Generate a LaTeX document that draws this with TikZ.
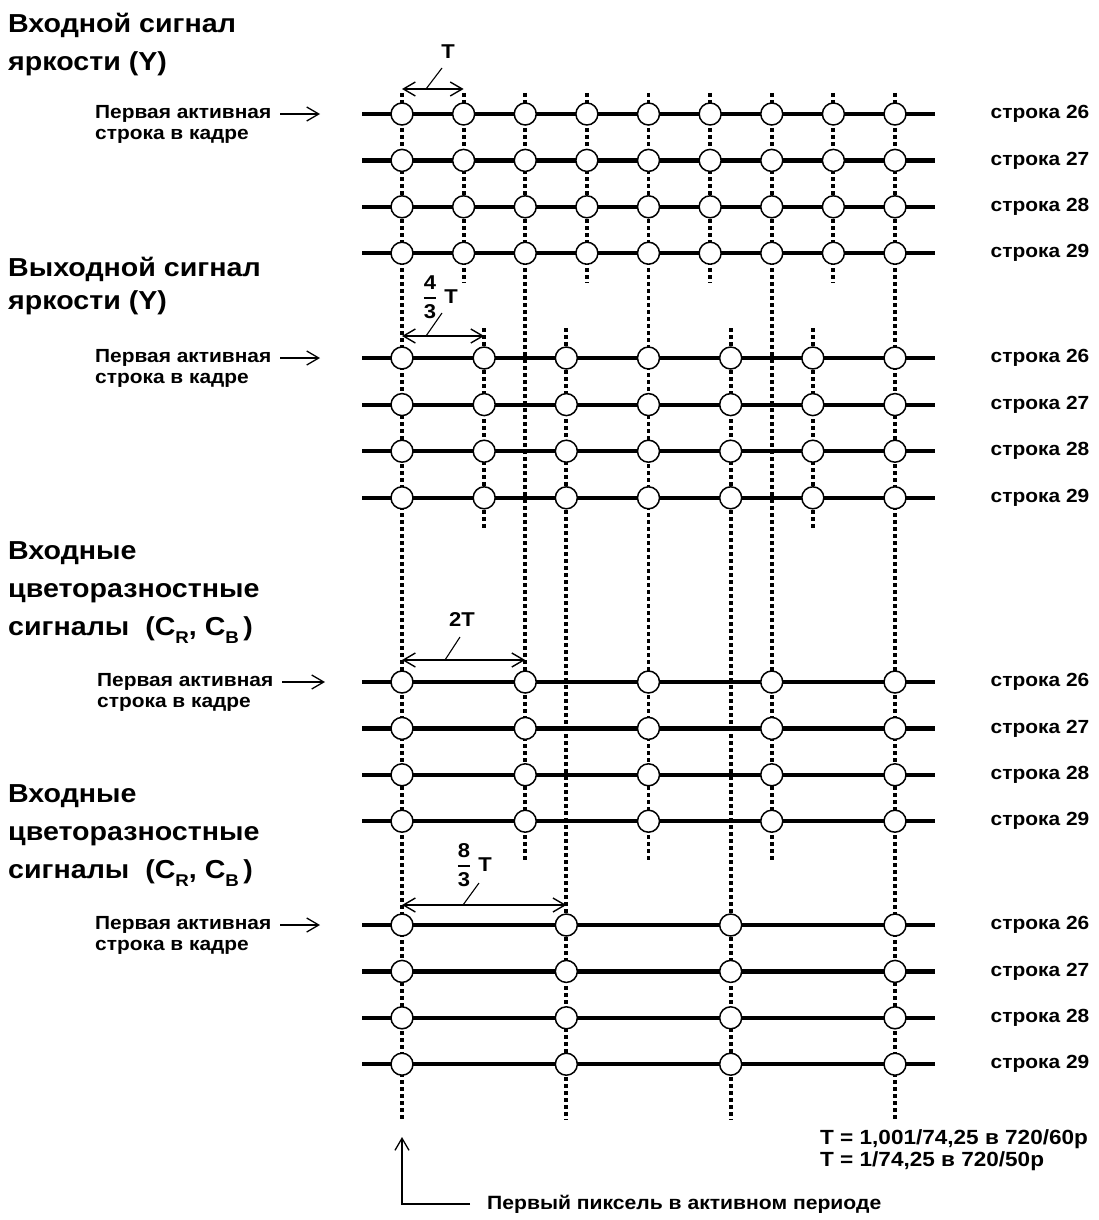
\documentclass[tikz,border=0pt]{standalone}
\usepackage{amsmath}
\usepackage{fontspec}
\setmainfont[FakeStretch=1.1]{Liberation Sans}
\usetikzlibrary{arrows.meta}

\newcommand{\pixfrac}[2]{$\genfrac{}{}{1.8pt}{0}{\text{#1}}{\text{#2}}$}
\newcommand{\lowsub}[1]{\raisebox{-8pt}{\fontsize{17}{17}\selectfont #1}}

\begin{document}
\begin{tikzpicture}[x=1pt, y=-1pt,
    title/.style={font=\fontsize{26}{38}\selectfont\bfseries, align=left, anchor=north west, inner sep=0pt},
    rowlabel/.style={font=\fontsize{19}{22}\selectfont\bfseries},
    firstrow/.style={font=\fontsize{19}{21}\selectfont\bfseries, align=left, anchor=north west, inner sep=0pt},
    note/.style={font=\fontsize{20.5}{22}\selectfont\bfseries, align=left, anchor=north west, inner sep=0pt},
    dimlabel/.style={font=\fontsize{20}{22}\selectfont\bfseries, inner sep=0pt},
    pix/.style={circle, draw, fill=white, line width=1.5pt, minimum size=22pt, inner sep=0pt},
    scan/.style={line width=4.2pt},
    sample/.style={line width=3.8pt, dash pattern=on 4pt off 3pt},
    dimline/.style={line width=1.4pt, {Straight Barb[length=12pt,width=14pt]}-{Straight Barb[length=12pt,width=14pt]}},
    lead/.style={line width=1.1pt},
    pointer/.style={line width=1.3pt, -{Straight Barb[length=12pt,width=14pt]}}
]
\useasboundingbox (0,0) rectangle (1099,1220);

% Sampling instants (dotted verticals)
\foreach \c/\ya/\yb in {0/93/1120, 1/93/283, 2/93/860, 3/93/283, 4/93/860,
                        5/93/283, 6/93/860, 7/93/283, 8/93/1120} {
    \draw[sample] (402+\c*61.625, \ya) -- (402+\c*61.625, \yb);
}
\foreach \c/\yb in {1/530, 2/1120, 4/1120, 5/530} {
    \draw[sample] (402+\c*82.1667, 328) -- (402+\c*82.1667, \yb);
}

% Input luminance (Y), step T
\begin{scope}[shift={(0,114)}]
    \node[title] (yin-title) at (8,-101) {Входной сигнал\\яркости (Y)};
    \node[firstrow] (yin-first) at (95,-9) {Первая активная\\строка в кадре};
    \coordinate (yin-pa) at (280,0);
    \coordinate (yin-pb) at (320,0);
    \draw[pointer] (yin-pa) -- (yin-pb);
    \foreach \r in {0,...,3} {
        \pgfmathtruncatemacro{\num}{26+\r}
        \draw[scan] (362, \r*46.4) -- (935, \r*46.4);
        \foreach \c in {0,...,8}
            \node[pix] (yin-\r-\c) at (402+\c*61.625, \r*46.4) {};
        \node[rowlabel] (yin-lab\r) at (1040, \r*46.4) {строка \num};
    }
    % T
    \coordinate (yin-da) at (402,-25);
    \coordinate (yin-db) at (463.6,-25);
    \draw[dimline] (yin-da) -- (yin-db);
    \node[dimlabel] (yin-T) at (448,-62) {T};
    \draw[lead] (442,-46) -- (426,-25);
\end{scope}

% Output luminance (Y), step 4/3 T
\begin{scope}[shift={(0,358)}]
    \node[title, font=\fontsize{26}{33}\selectfont\bfseries] (yout-title) at (8,-101) {Выходной сигнал\\яркости (Y)};
    \node[firstrow] (yout-first) at (95,-9) {Первая активная\\строка в кадре};
    \coordinate (yout-pa) at (280,0);
    \coordinate (yout-pb) at (320,0);
    \draw[pointer] (yout-pa) -- (yout-pb);
    \foreach \r in {0,...,3} {
        \pgfmathtruncatemacro{\num}{26+\r}
        \draw[scan] (362, \r*46.6) -- (935, \r*46.6);
        \foreach \c in {0,...,6}
            \node[pix] (yout-\r-\c) at (402+\c*82.1667, \r*46.6) {};
        \node[rowlabel] (yout-lab\r) at (1040, \r*46.6) {строка \num};
    }
    % 4/3 T
    \coordinate (yout-da) at (402,-22);
    \coordinate (yout-db) at (484.2,-22);
    \draw[dimline] (yout-da) -- (yout-db);
    \node[dimlabel] (yout-frac) at (430,-61) {\pixfrac{4}{3}};
    \node[dimlabel] (yout-T) at (451,-61) {T};
    \draw[lead] (442,-45) -- (426,-22);
\end{scope}

% Input colour difference, step 2T
\begin{scope}[shift={(0,682)}]
    \node[title] (cin-title) at (8,-141) {Входные\\цветоразностные\\сигналы~ (C\lowsub{R}, C\lowsub{B}\,)};
    \node[firstrow] (cin-first) at (97,-9) {Первая активная\\строка в кадре};
    \coordinate (cin-pa) at (282,0);
    \coordinate (cin-pb) at (325,0);
    \draw[pointer] (cin-pa) -- (cin-pb);
    \foreach \r in {0,...,3} {
        \pgfmathtruncatemacro{\num}{26+\r}
        \draw[scan] (362, \r*46.4) -- (935, \r*46.4);
        \foreach \c in {0,...,4}
            \node[pix] (cin-\r-\c) at (402+\c*123.25, \r*46.4) {};
        \node[rowlabel] (cin-lab\r) at (1040, \r*46.4) {строка \num};
    }
    % 2T
    \coordinate (cin-da) at (402,-22);
    \coordinate (cin-db) at (525.2,-22);
    \draw[dimline] (cin-da) -- (cin-db);
    \node[dimlabel] (cin-T) at (462,-62) {2T};
    \draw[lead] (460,-45) -- (445,-22);
\end{scope}

% Colour difference, step 8/3 T
\begin{scope}[shift={(0,925)}]
    \node[title] (cout-title) at (8,-141) {Входные\\цветоразностные\\сигналы~ (C\lowsub{R}, C\lowsub{B}\,)};
    \node[firstrow] (cout-first) at (95,-9) {Первая активная\\строка в кадре};
    \coordinate (cout-pa) at (280,0);
    \coordinate (cout-pb) at (320,0);
    \draw[pointer] (cout-pa) -- (cout-pb);
    \foreach \r in {0,...,3} {
        \pgfmathtruncatemacro{\num}{26+\r}
        \draw[scan] (362, \r*46.4) -- (935, \r*46.4);
        \foreach \c in {0,...,3}
            \node[pix] (cout-\r-\c) at (402+\c*164.333, \r*46.4) {};
        \node[rowlabel] (cout-lab\r) at (1040, \r*46.4) {строка \num};
    }
    % 8/3 T
    \coordinate (cout-da) at (402,-20);
    \coordinate (cout-db) at (566.3,-20);
    \draw[dimline] (cout-da) -- (cout-db);
    \node[dimlabel] (cout-frac) at (464,-60) {\pixfrac{8}{3}};
    \node[dimlabel] (cout-T) at (485,-60) {T};
    \draw[lead] (479,-42) -- (463,-20);
\end{scope}

% Period note
\node[note] (period) at (820,1129) {T = 1,001/74,25 в 720/60p\\T = 1/74,25 в 720/50p};

% First active pixel
\coordinate (firstpix) at (402,1137);
\coordinate (pcorner) at (402,1204);
\coordinate (pend) at (470,1204);
\draw[pointer] (pend) -- (pcorner) -- (firstpix);
\node[dimlabel, anchor=west, font=\fontsize{19.2}{22}\selectfont\bfseries] (firstpix-lab) at (487,1204) {Первый пиксель в активном периоде};

\end{tikzpicture}
\end{document}
